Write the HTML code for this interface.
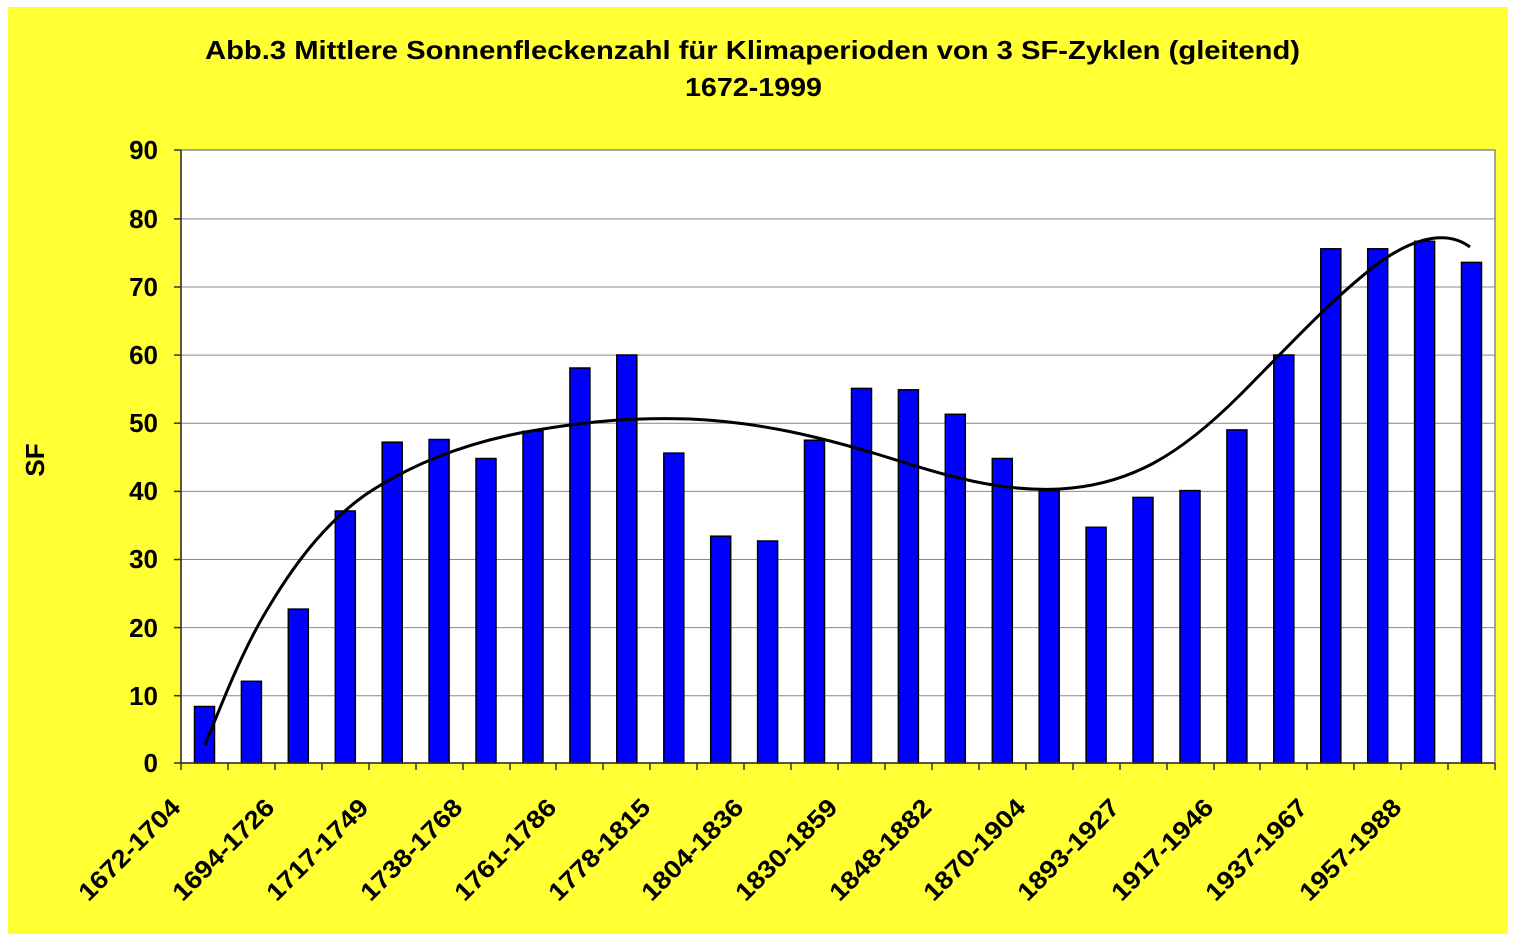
<!DOCTYPE html>
<html><head><meta charset="utf-8"><style>body{margin:0;background:#fff}svg{display:block}text{font-family:"Liberation Sans",sans-serif;font-weight:bold;fill:#000}</style></head><body>
<svg width="1516" height="942" viewBox="0 0 1516 942">
<rect x="8" y="7" width="1500" height="927" fill="#ffff33"/>
<text x="205" y="59" font-size="26" textLength="1095" lengthAdjust="spacingAndGlyphs">Abb.3 Mittlere Sonnenfleckenzahl für Klimaperioden von 3 SF-Zyklen (gleitend)</text>
<text x="685" y="96" font-size="26" textLength="137" lengthAdjust="spacingAndGlyphs">1672-1999</text>
<rect x="181" y="150" width="1314" height="613" fill="#fff" stroke="#888" stroke-width="1.5"/>
<g stroke="#888" stroke-width="1">
<line x1="181" x2="1495" y1="218.9" y2="218.9"/><line x1="181" x2="1495" y1="287" y2="287"/><line x1="181" x2="1495" y1="355.1" y2="355.1"/><line x1="181" x2="1495" y1="423.2" y2="423.2"/><line x1="181" x2="1495" y1="491.4" y2="491.4"/><line x1="181" x2="1495" y1="559.5" y2="559.5"/><line x1="181" x2="1495" y1="627.6" y2="627.6"/><line x1="181" x2="1495" y1="695.7" y2="695.7"/>
</g>
<g fill="#0000ff" stroke="#000" stroke-width="1.5">
<rect x="194.5" y="706.5" width="20" height="56.5"/><rect x="241.4" y="681.3" width="20" height="81.7"/><rect x="288.3" y="609.1" width="20" height="153.9"/><rect x="335.3" y="511" width="20" height="252"/><rect x="382.2" y="442.2" width="20" height="320.8"/><rect x="429.1" y="439.5" width="20" height="323.5"/><rect x="476" y="458.5" width="20" height="304.5"/><rect x="523" y="431.3" width="20" height="331.7"/><rect x="569.9" y="368" width="20" height="395"/><rect x="616.8" y="355" width="20" height="408"/><rect x="663.8" y="453.1" width="20" height="309.9"/><rect x="710.7" y="536.2" width="20" height="226.8"/><rect x="757.6" y="541" width="20" height="222"/><rect x="804.5" y="440.2" width="20" height="322.8"/><rect x="851.5" y="388.4" width="20" height="374.6"/><rect x="898.4" y="389.8" width="20" height="373.2"/><rect x="945.3" y="414.3" width="20" height="348.7"/><rect x="992.3" y="458.5" width="20" height="304.5"/><rect x="1039.2" y="490.6" width="20" height="272.4"/><rect x="1086.1" y="527.3" width="20" height="235.7"/><rect x="1133" y="497.4" width="20" height="265.6"/><rect x="1180" y="490.6" width="20" height="272.4"/><rect x="1226.9" y="429.9" width="20" height="333.1"/><rect x="1273.8" y="355" width="20" height="408"/><rect x="1320.8" y="248.8" width="20" height="514.2"/><rect x="1367.7" y="248.8" width="20" height="514.2"/><rect x="1414.6" y="241.3" width="20" height="521.7"/><rect x="1461.5" y="262.4" width="20" height="500.6"/>
</g>
<path d="M205,745 C225,695 245,645 270,605 C300,555 330,520 365,495 C410,465 460,445 520,433 C580,422 630,417 690,419 C760,422 820,437 880,455 C950,477 1000,492 1060,489 C1130,485 1180,455 1240,395 C1290,345 1330,300 1380,262 C1420,234 1450,232 1470,247" fill="none" stroke="#000" stroke-width="3"/>
<g stroke="#333" stroke-width="1.5">
<line x1="181" y1="150" x2="181" y2="770"/><line x1="174" y1="763" x2="1495" y2="763"/>
<line x1="174" x2="181" y1="150" y2="150"/><line x1="174" x2="181" y1="218.9" y2="218.9"/><line x1="174" x2="181" y1="287" y2="287"/><line x1="174" x2="181" y1="355.1" y2="355.1"/><line x1="174" x2="181" y1="423.2" y2="423.2"/><line x1="174" x2="181" y1="491.4" y2="491.4"/><line x1="174" x2="181" y1="559.5" y2="559.5"/><line x1="174" x2="181" y1="627.6" y2="627.6"/><line x1="174" x2="181" y1="695.7" y2="695.7"/>
<line x1="228" x2="228" y1="763" y2="770"/><line x1="275" x2="275" y1="763" y2="770"/><line x1="322" x2="322" y1="763" y2="770"/><line x1="369" x2="369" y1="763" y2="770"/><line x1="416" x2="416" y1="763" y2="770"/><line x1="463" x2="463" y1="763" y2="770"/><line x1="510" x2="510" y1="763" y2="770"/><line x1="556" x2="556" y1="763" y2="770"/><line x1="603" x2="603" y1="763" y2="770"/><line x1="650" x2="650" y1="763" y2="770"/><line x1="697" x2="697" y1="763" y2="770"/><line x1="744" x2="744" y1="763" y2="770"/><line x1="791" x2="791" y1="763" y2="770"/><line x1="838" x2="838" y1="763" y2="770"/><line x1="885" x2="885" y1="763" y2="770"/><line x1="932" x2="932" y1="763" y2="770"/><line x1="979" x2="979" y1="763" y2="770"/><line x1="1026" x2="1026" y1="763" y2="770"/><line x1="1073" x2="1073" y1="763" y2="770"/><line x1="1120" x2="1120" y1="763" y2="770"/><line x1="1167" x2="1167" y1="763" y2="770"/><line x1="1214" x2="1214" y1="763" y2="770"/><line x1="1260" x2="1260" y1="763" y2="770"/><line x1="1307" x2="1307" y1="763" y2="770"/><line x1="1354" x2="1354" y1="763" y2="770"/><line x1="1401" x2="1401" y1="763" y2="770"/><line x1="1448" x2="1448" y1="763" y2="770"/><line x1="1495" x2="1495" y1="763" y2="770"/>
</g>
<g font-size="26" text-anchor="end">
<text x="158" y="159">90</text><text x="158" y="228">80</text><text x="158" y="296">70</text><text x="158" y="364">60</text><text x="158" y="432">50</text><text x="158" y="500">40</text><text x="158" y="568">30</text><text x="158" y="637">20</text><text x="158" y="705">10</text><text x="158" y="772">0</text>
</g>
<text transform="translate(44,460) rotate(-90)" font-size="26" text-anchor="middle">SF</text>
<g font-size="25" text-anchor="end">
<text transform="translate(182,809) rotate(-45)" textLength="132" lengthAdjust="spacingAndGlyphs">1672-1704</text>
<text transform="translate(276,809) rotate(-45)" textLength="132" lengthAdjust="spacingAndGlyphs">1694-1726</text>
<text transform="translate(370,809) rotate(-45)" textLength="132" lengthAdjust="spacingAndGlyphs">1717-1749</text>
<text transform="translate(464,809) rotate(-45)" textLength="132" lengthAdjust="spacingAndGlyphs">1738-1768</text>
<text transform="translate(558,809) rotate(-45)" textLength="132" lengthAdjust="spacingAndGlyphs">1761-1786</text>
<text transform="translate(652,809) rotate(-45)" textLength="132" lengthAdjust="spacingAndGlyphs">1778-1815</text>
<text transform="translate(745,809) rotate(-45)" textLength="132" lengthAdjust="spacingAndGlyphs">1804-1836</text>
<text transform="translate(839,809) rotate(-45)" textLength="132" lengthAdjust="spacingAndGlyphs">1830-1859</text>
<text transform="translate(933,809) rotate(-45)" textLength="132" lengthAdjust="spacingAndGlyphs">1848-1882</text>
<text transform="translate(1027,809) rotate(-45)" textLength="132" lengthAdjust="spacingAndGlyphs">1870-1904</text>
<text transform="translate(1121,809) rotate(-45)" textLength="132" lengthAdjust="spacingAndGlyphs">1893-1927</text>
<text transform="translate(1215,809) rotate(-45)" textLength="132" lengthAdjust="spacingAndGlyphs">1917-1946</text>
<text transform="translate(1309,809) rotate(-45)" textLength="132" lengthAdjust="spacingAndGlyphs">1937-1967</text>
<text transform="translate(1403,809) rotate(-45)" textLength="132" lengthAdjust="spacingAndGlyphs">1957-1988</text>
</g>
</svg>
</body></html>
